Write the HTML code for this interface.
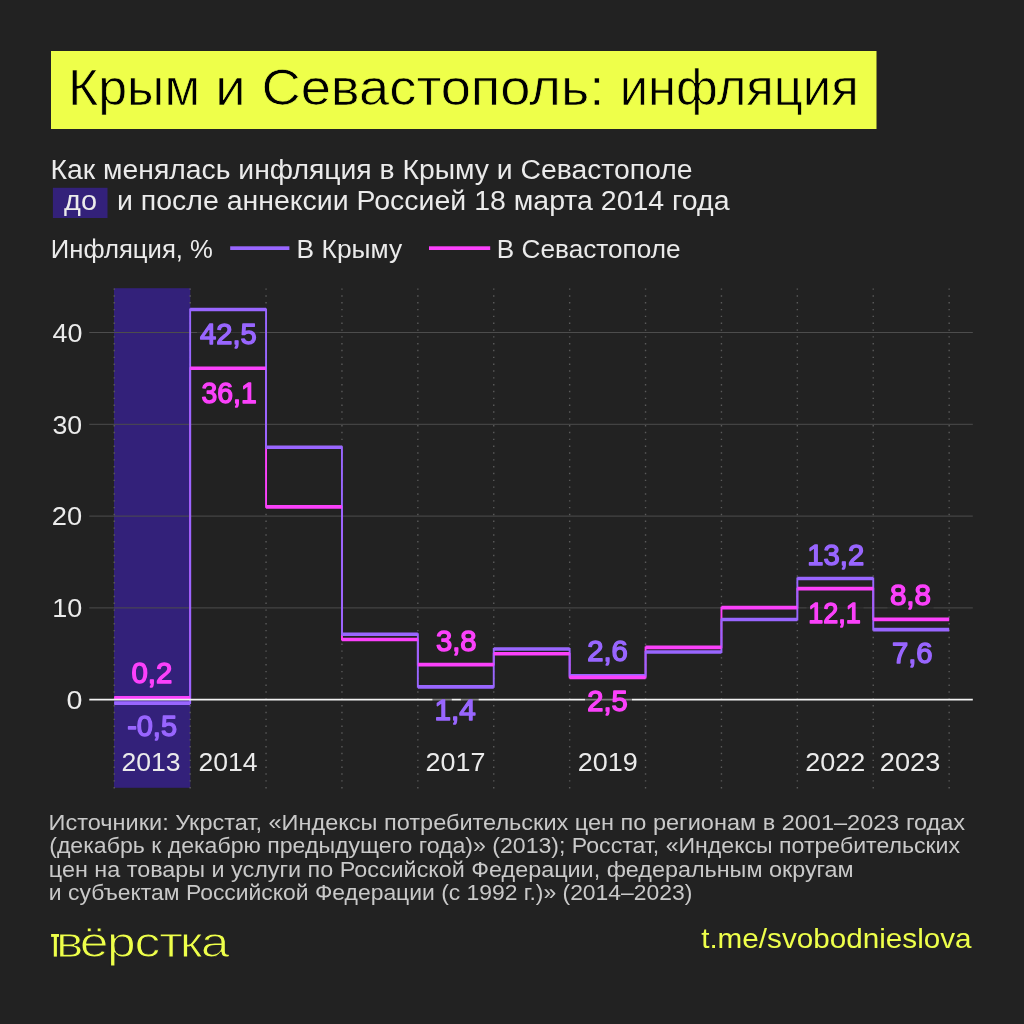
<!DOCTYPE html>
<html lang="ru">
<head>
<meta charset="utf-8">
<title>Крым и Севастополь: инфляция</title>
<style>
html,body{margin:0;padding:0;background:#222222;}
body{width:1024px;height:1024px;overflow:hidden;}
svg{display:block;}
text{font-family:"Liberation Sans",sans-serif;}
.lab{stroke-width:1.4px;stroke-linejoin:round;}
</style>
</head>
<body>
<svg width="1024" height="1024" viewBox="0 0 1024 1024">
<rect width="1024" height="1024" fill="#222222"/>
<rect x="51" y="51" width="825.5" height="78" fill="#eeff4a"/>
<text y="104.7" font-size="49.8" fill="#000" stroke="#eeff4a" stroke-width="0.7"><tspan id="title1" x="68.04" textLength="132.06" lengthAdjust="spacingAndGlyphs">Крым</tspan> <tspan id="title2" x="215.38" textLength="30.39" lengthAdjust="spacingAndGlyphs">и</tspan> <tspan id="title3" x="261.48" textLength="342.83" lengthAdjust="spacingAndGlyphs">Севастополь:</tspan> <tspan id="title4" x="619.78" textLength="238.86" lengthAdjust="spacingAndGlyphs">инфляция</tspan></text>
<text id="sub1" x="50.64" y="178.80" font-size="26.8" fill="#ebebeb" textLength="641.82" lengthAdjust="spacingAndGlyphs">Как менялась инфляция в Крыму и Севастополе</text>
<rect x="52.9" y="187.8" width="54.6" height="30.2" fill="#33217a"/>
<text id="do" x="64.13" y="209.70" font-size="26.8" fill="#ebebeb" textLength="32.89" lengthAdjust="spacingAndGlyphs">до</text>
<text id="sub2" x="116.97" y="209.70" font-size="26.8" fill="#ebebeb" textLength="612.56" lengthAdjust="spacingAndGlyphs">и после аннексии Россией 18 марта 2014 года</text>
<text id="leg1" x="50.78" y="257.90" font-size="25.8" fill="#ebebeb" textLength="162.13" lengthAdjust="spacingAndGlyphs">Инфляция, %</text>
<rect x="230.2" y="246.3" width="59.2" height="3.7" fill="#9966ff"/>
<text id="leg2" x="296.63" y="257.90" font-size="25.8" fill="#ebebeb" textLength="105.50" lengthAdjust="spacingAndGlyphs">В Крыму</text>
<rect x="429" y="246.3" width="61.2" height="3.7" fill="#fb41fb"/>
<text id="leg3" x="496.85" y="257.90" font-size="25.8" fill="#ebebeb" textLength="183.69" lengthAdjust="spacingAndGlyphs">В Севастополе</text>
<rect x="114" y="288.2" width="76.3" height="499.6" fill="#33217a"/>
<line x1="114.25" y1="288.4" x2="114.25" y2="788.4" stroke="#5a5a5a" stroke-width="1.4" stroke-dasharray="1.4 5.43"/>
<line x1="190.15" y1="288.4" x2="190.15" y2="788.4" stroke="#5a5a5a" stroke-width="1.4" stroke-dasharray="1.4 5.43"/>
<line x1="266.05" y1="288.4" x2="266.05" y2="788.4" stroke="#5a5a5a" stroke-width="1.4" stroke-dasharray="1.4 5.43"/>
<line x1="341.95" y1="288.4" x2="341.95" y2="788.4" stroke="#5a5a5a" stroke-width="1.4" stroke-dasharray="1.4 5.43"/>
<line x1="417.85" y1="288.4" x2="417.85" y2="788.4" stroke="#5a5a5a" stroke-width="1.4" stroke-dasharray="1.4 5.43"/>
<line x1="493.75" y1="288.4" x2="493.75" y2="788.4" stroke="#5a5a5a" stroke-width="1.4" stroke-dasharray="1.4 5.43"/>
<line x1="569.65" y1="288.4" x2="569.65" y2="788.4" stroke="#5a5a5a" stroke-width="1.4" stroke-dasharray="1.4 5.43"/>
<line x1="645.55" y1="288.4" x2="645.55" y2="788.4" stroke="#5a5a5a" stroke-width="1.4" stroke-dasharray="1.4 5.43"/>
<line x1="721.45" y1="288.4" x2="721.45" y2="788.4" stroke="#5a5a5a" stroke-width="1.4" stroke-dasharray="1.4 5.43"/>
<line x1="797.35" y1="288.4" x2="797.35" y2="788.4" stroke="#5a5a5a" stroke-width="1.4" stroke-dasharray="1.4 5.43"/>
<line x1="873.25" y1="288.4" x2="873.25" y2="788.4" stroke="#5a5a5a" stroke-width="1.4" stroke-dasharray="1.4 5.43"/>
<line x1="949.15" y1="288.4" x2="949.15" y2="788.4" stroke="#5a5a5a" stroke-width="1.4" stroke-dasharray="1.4 5.43"/>
<line x1="89.3" y1="607.90" x2="972.8" y2="607.90" stroke="#4d4d4d" stroke-width="1"/>
<line x1="89.3" y1="516.10" x2="972.8" y2="516.10" stroke="#4d4d4d" stroke-width="1"/>
<line x1="89.3" y1="424.30" x2="972.8" y2="424.30" stroke="#4d4d4d" stroke-width="1"/>
<line x1="89.3" y1="332.50" x2="972.8" y2="332.50" stroke="#4d4d4d" stroke-width="1"/>
<text id="tk40" x="52.45" y="341.70" font-size="26.5" fill="#ebebeb" textLength="29.90" lengthAdjust="spacingAndGlyphs">40</text>
<text id="tk30" x="52.46" y="433.50" font-size="26.5" fill="#ebebeb" textLength="29.71" lengthAdjust="spacingAndGlyphs">30</text>
<text id="tk20" x="51.88" y="525.30" font-size="26.5" fill="#ebebeb" textLength="30.34" lengthAdjust="spacingAndGlyphs">20</text>
<text id="tk10" x="52.39" y="617.10" font-size="26.5" fill="#ebebeb" textLength="30.00" lengthAdjust="spacingAndGlyphs">10</text>
<text id="tk0" x="66.41" y="708.90" font-size="26.5" fill="#ebebeb" textLength="15.92" lengthAdjust="spacingAndGlyphs">0</text>
<path d="M114.25,697.86H190.15V368.30H266.05V506.92H341.95V639.57H417.85V664.63H493.75V653.80H569.65V677.39H645.55V647.37H721.45V607.62H797.35V588.62H873.25V619.38H949.15" fill="none" stroke="#fb41fb" stroke-width="1.9"/>
<path d="M114.25,703.10H190.15V309.55H266.05V447.25H341.95V634.25H417.85V686.85H493.75V649.03H569.65V675.74H645.55V651.96H721.45V619.47H797.35V578.52H873.25V629.66H949.15" fill="none" stroke="#9966ff" stroke-width="1.9"/>
<path d="M114.25,703.10H190.15M190.15,309.55H266.05M266.05,447.25H341.95M341.95,634.25H417.85M417.85,686.85H493.75M493.75,649.03H569.65M569.65,675.74H645.55M645.55,651.96H721.45M721.45,619.47H797.35M797.35,578.52H873.25M873.25,629.66H949.15" fill="none" stroke="#9966ff" stroke-width="3.6"/>
<path d="M114.25,697.86H190.15M190.15,368.30H266.05M266.05,506.92H341.95M341.95,639.57H417.85M417.85,664.63H493.75M493.75,653.80H569.65M569.65,677.39H645.55M645.55,647.37H721.45M721.45,607.62H797.35M797.35,588.62H873.25M873.25,619.38H949.15" fill="none" stroke="#fb41fb" stroke-width="3.6"/>
<line x1="89.3" y1="699.70" x2="972.8" y2="699.70" stroke="#f2f2f2" stroke-width="1.8"/>
<rect x="432.4" y="697" width="19.4" height="6.0" fill="#222222" fill-opacity=".55"/>
<rect x="460.9" y="697" width="17.8" height="6.0" fill="#222222" fill-opacity=".55"/>
<rect x="585" y="697" width="47.0" height="6.0" fill="#222222" fill-opacity=".55"/>
<rect x="197" y="329" width="62.5" height="7.0" fill="#222222" fill-opacity=".55"/>
<rect x="806.5" y="604.5" width="57.0" height="6.5" fill="#222222" fill-opacity=".55"/>
<rect x="887.5" y="604.5" width="46.0" height="6.5" fill="#222222" fill-opacity=".55"/>
<text id="y2013" x="121.54" y="771.00" font-size="26.5" fill="#ebebeb" textLength="59.09" lengthAdjust="spacingAndGlyphs">2013</text>
<text id="y2014" x="198.43" y="771.00" font-size="26.5" fill="#ebebeb" textLength="59.04" lengthAdjust="spacingAndGlyphs">2014</text>
<text id="y2017" x="425.60" y="771.00" font-size="26.5" fill="#ebebeb" textLength="59.80" lengthAdjust="spacingAndGlyphs">2017</text>
<text id="y2019" x="577.81" y="771.00" font-size="26.5" fill="#ebebeb" textLength="60.01" lengthAdjust="spacingAndGlyphs">2019</text>
<text id="y2022" x="805.32" y="771.00" font-size="26.5" fill="#ebebeb" textLength="60.04" lengthAdjust="spacingAndGlyphs">2022</text>
<text id="y2023" x="879.83" y="771.00" font-size="26.5" fill="#ebebeb" textLength="60.41" lengthAdjust="spacingAndGlyphs">2023</text>
<text id="v02" class="lab labr" stroke="#fb41fb" x="131.48" y="682.90" font-size="29" fill="#fb41fb" textLength="40.79" lengthAdjust="spacingAndGlyphs">0,2</text>
<text id="vm05" class="lab labr" stroke="#9966ff" x="127.13" y="735.60" font-size="29" fill="#9966ff" textLength="49.87" lengthAdjust="spacingAndGlyphs">-0,5</text>
<text id="v425" class="lab" stroke="#9966ff" x="200.12" y="343.60" font-size="29" fill="#9966ff" textLength="56.73" lengthAdjust="spacingAndGlyphs">42,5</text>
<text id="v361" class="lab" stroke="#fb41fb" x="201.53" y="403.30" font-size="29" fill="#fb41fb" textLength="55.15" lengthAdjust="spacingAndGlyphs">36,1</text>
<text id="v38" class="lab" stroke="#fb41fb" x="435.94" y="650.90" font-size="29" fill="#fb41fb" textLength="40.70" lengthAdjust="spacingAndGlyphs">3,8</text>
<text id="v14" class="lab" stroke="#9966ff" x="434.41" y="720.40" font-size="29" fill="#9966ff" textLength="41.32" lengthAdjust="spacingAndGlyphs">1,4</text>
<text id="v26" class="lab" stroke="#9966ff" x="587.25" y="661.30" font-size="29" fill="#9966ff" textLength="40.63" lengthAdjust="spacingAndGlyphs">2,6</text>
<text id="v25" class="lab" stroke="#fb41fb" x="587.28" y="711.00" font-size="29" fill="#fb41fb" textLength="40.44" lengthAdjust="spacingAndGlyphs">2,5</text>
<text id="v132" class="lab" stroke="#9966ff" x="807.25" y="564.50" font-size="29" fill="#9966ff" textLength="56.93" lengthAdjust="spacingAndGlyphs">13,2</text>
<text id="v121" class="lab" stroke="#fb41fb" x="808.27" y="622.50" font-size="29" fill="#fb41fb" textLength="52.65" lengthAdjust="spacingAndGlyphs">12,1</text>
<text id="v88" class="lab" stroke="#fb41fb" x="889.90" y="604.80" font-size="29" fill="#fb41fb" textLength="41.21" lengthAdjust="spacingAndGlyphs">8,8</text>
<text id="v76" class="lab" stroke="#9966ff" x="891.90" y="663.40" font-size="29" fill="#9966ff" textLength="40.68" lengthAdjust="spacingAndGlyphs">7,6</text>
<text id="src0" x="48.64" y="829.90" font-size="22.5" fill="#c9c9c9" textLength="916.50" lengthAdjust="spacingAndGlyphs">Источники: Укрстат, «Индексы потребительских цен по регионам в 2001–2023 годах</text>
<text id="src1" x="49.21" y="853.20" font-size="22.5" fill="#c9c9c9" textLength="910.86" lengthAdjust="spacingAndGlyphs">(декабрь к декабрю предыдущего года)» (2013); Росстат, «Индексы потребительских</text>
<text id="src2" x="48.89" y="876.50" font-size="22.5" fill="#c9c9c9" textLength="804.75" lengthAdjust="spacingAndGlyphs">цен на товары и услуги по Российской Федерации, федеральным округам</text>
<text id="src3" x="48.88" y="899.80" font-size="22.5" fill="#c9c9c9" textLength="643.46" lengthAdjust="spacingAndGlyphs">и субъектам Российской Федерации (с 1992 г.)» (2014–2023)</text>
<rect x="51.1" y="934" width="10" height="2.9" fill="#eeff4a"/>
<rect x="53.8" y="934" width="3.1" height="22.6" fill="#eeff4a"/>
<g transform="scale(1.2,1)"><text id="logo" x="46.77 66.46 89.10 112.15 132.78 149.71 167.38" y="956.6" font-size="43" fill="#eeff4a" stroke="#222222" stroke-width="1">вёрстка</text></g>
<text id="url" x="701.15" y="947.90" font-size="27.6" fill="#eeff4a" textLength="270.46" lengthAdjust="spacingAndGlyphs">t.me/svobodnieslova</text>
</svg>
</body>
</html>
